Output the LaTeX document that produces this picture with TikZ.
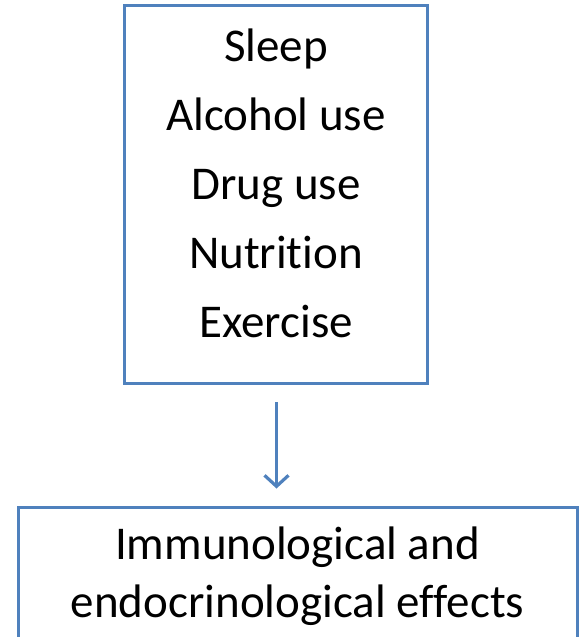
\documentclass[tikz,border=0pt]{standalone}
\usepackage{fontspec}
\setmainfont[Ligatures=NoCommon]{Carlito}
\usetikzlibrary{arrows.meta}
\definecolor{officeblue}{HTML}{4F81BD}
\tikzset{
  box/.style={draw=officeblue, line width=3pt, rectangle, inner sep=0pt},
  txt/.style={font=\fontsize{47pt}{57pt}\selectfont, inner sep=0pt, anchor=base, text=black},
  flowarrow/.style={draw=officeblue, line width=3.2pt, -{Straight Barb[length=11pt, width=24pt, line width=3.2pt]}}
}
\begin{document}
\begin{tikzpicture}[x=1pt, y=1pt]
\useasboundingbox (0,0) rectangle (580,-637);
\node[box, minimum width=303pt, minimum height=378pt] (top) at (275.5,-194.5) {};
\node[txt] (t1) at (276,-61) {Sleep};
\node[txt] (t2) at (276,-130) {Alcohol use};
\node[txt] (t3) at (276,-199) {Drug use};
\node[txt] (t4) at (276,-268) {Nutrition};
\node[txt] (t5) at (276,-337) {Exercise};
\node[box, minimum width=559pt, minimum height=160pt] (bot) at (297.5,-587) {};
\node[txt] (b1) at (297.5,-559) {Immunological and};
\node[txt] (b2) at (297.5,-617) {endocrinological effects};
\draw[flowarrow] ([xshift=1pt,yshift=-17pt]top.south) -- ([xshift=1pt,yshift=17pt]top.south |- bot.north);
\end{tikzpicture}
\end{document}
